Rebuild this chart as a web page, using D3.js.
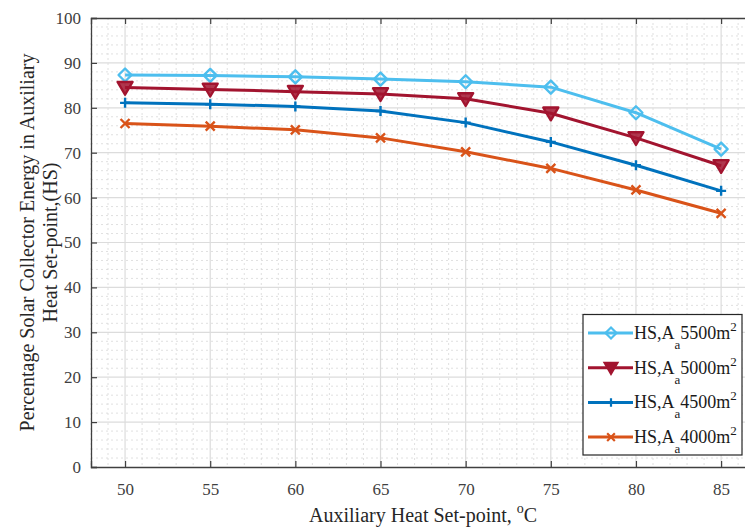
<!DOCTYPE html>
<html>
<head>
<meta charset="utf-8">
<script src="https://cdn.jsdelivr.net/npm/d3@7"></script>
<style>
  body { margin: 0; background: #fff; }
  text { font-family: "Liberation Serif", "DejaVu Serif", serif; }
</style>
</head>
<body>
<div id="container"></div>
<script>
/* CONSTANTS AND GLOBALS */
const width = 745,
  height = 527,
  margin = {top: 18, left: 91, bottom: 60};

// data
const setPoints = [50, 55, 60, 65, 70, 75, 80, 85];
const hs5500 = [87.3, 87.2, 86.9, 86.4, 85.8, 84.6, 78.9, 70.8];
const hs5000 = [84.5, 84.1, 83.6, 83.1, 82.0, 78.8, 73.3, 67.1];
const hs4500 = [81.1, 80.8, 80.3, 79.3, 76.7, 72.4, 67.2, 61.5];
const hs4000 = [76.5, 75.9, 75.1, 73.3, 70.2, 66.5, 61.7, 56.5];
const seriesNames = ["5500", "5000", "4500", "4000"];
const yTicks = [0, 10, 20, 30, 40, 50, 60, 70, 80, 90, 100];
const xTicks = [50, 55, 60, 65, 70, 75, 80, 85];

const series = [
  {name: seriesNames[0], values: hs5500, color: "#4DBEEE", marker: "diamond"},
  {name: seriesNames[1], values: hs5000, color: "#A2142F", marker: "triangle"},
  {name: seriesNames[2], values: hs4500, color: "#0072BD", marker: "plus"},
  {name: seriesNames[3], values: hs4000, color: "#D95319", marker: "cross"}
];

/* SCALES */
const xScale = d3.scaleLinear().domain([48, 87]).range([margin.left, margin.left + 39 * 17.03]);
const yScale = d3.scaleLinear().domain([0, 100]).range([467, margin.top]);

const svg = d3.select("#container")
  .append("svg")
  .attr("width", width)
  .attr("height", height)
  .style("background-color", "white");

const x0 = xScale(48), x1 = xScale(87), y0 = yScale(0), y1 = yScale(100);

// minor grid
svg.append("g").selectAll("line")
  .data(d3.range(48, 88, 1).filter(v => v % 5 !== 0))
  .join("line")
  .attr("x1", d => xScale(d)).attr("x2", d => xScale(d))
  .attr("y1", y1).attr("y2", y0)
  .attr("stroke", "#d8d8d8").attr("stroke-dasharray", "2,3").attr("stroke-width", 0.8);
svg.append("g").selectAll("line")
  .data(d3.range(2, 100, 2).filter(v => v % 10 !== 0))
  .join("line")
  .attr("x1", x0).attr("x2", x1)
  .attr("y1", d => yScale(d)).attr("y2", d => yScale(d))
  .attr("stroke", "#d8d8d8").attr("stroke-dasharray", "2,3").attr("stroke-width", 0.8);

// major grid
svg.append("g").selectAll("line")
  .data(xTicks)
  .join("line")
  .attr("x1", d => xScale(d)).attr("x2", d => xScale(d))
  .attr("y1", y1).attr("y2", y0)
  .attr("stroke", "#dcdcdc").attr("stroke-width", 1.2);
svg.append("g").selectAll("line")
  .data(yTicks.slice(1, -1))
  .join("line")
  .attr("x1", x0).attr("x2", x1)
  .attr("y1", d => yScale(d)).attr("y2", d => yScale(d))
  .attr("stroke", "#dcdcdc").attr("stroke-width", 1.2);

// axes
const xAxis = d3.axisBottom(xScale).tickValues(xTicks).tickSize(-6).tickPadding(16);
const yAxis = d3.axisLeft(yScale).tickValues(yTicks).tickSize(-6).tickPadding(10);
const xTop = d3.axisTop(xScale).tickValues(xTicks).tickSize(-6).tickFormat("");

function styleAxis(g) {
  g.attr("font-family", "Liberation Serif").attr("font-size", 17);
  g.select(".domain").attr("stroke", "#404040").attr("stroke-width", 1.3);
  g.selectAll(".tick line").attr("stroke", "#404040").attr("stroke-width", 1.2);
  g.selectAll(".tick text").attr("fill", "#404040");
}
svg.append("g").attr("transform", `translate(0,${y0})`).call(xAxis).call(styleAxis);
svg.append("g").attr("transform", `translate(${x0},0)`).call(yAxis).call(styleAxis);
svg.append("g").attr("transform", `translate(0,${y1})`).call(xTop).call(styleAxis);

// markers
function markerPath(type, s) {
  if (type === "diamond") return `M0,${-s}L${s},0L0,${s}L${-s},0Z`;
  if (type === "triangle") return `M${-s},${-s*0.75}L${s},${-s*0.75}L0,${s*0.95}Z`;
  if (type === "plus") return `M${-s},0L${s},0M0,${-s}L0,${s}`;
  return `M${-s},${-s}L${s},${s}M${-s},${s}L${s},${-s}`;
}
const markerSize = {diamond: 6.5, triangle: 7.5, plus: 5, cross: 4.5};

const line = d3.line()
  .x((d, i) => xScale(setPoints[i]))
  .y(d => yScale(d));

const groups = svg.append("g").selectAll("g")
  .data(series)
  .join("g");

groups.append("path")
  .attr("d", d => line(d.values))
  .attr("fill", "none")
  .attr("stroke", d => d.color)
  .attr("stroke-width", 3)
  .attr("stroke-linejoin", "round");

groups.each(function(s) {
  d3.select(this).selectAll("path.mk")
    .data(s.values)
    .join("path")
    .attr("class", "mk")
    .attr("transform", (d, i) => `translate(${xScale(setPoints[i])},${yScale(d)})`)
    .attr("d", markerPath(s.marker, markerSize[s.marker]))
    .attr("fill", s.marker === "triangle" ? s.color : "none")
    .attr("fill-opacity", 0.85)
    .attr("stroke", s.color)
    .attr("stroke-width", 2.4)
    .attr("stroke-linejoin", "round");
});

// legend
const legend = svg.append("g");
legend.append("rect")
  .attr("x", 583).attr("y", 314.5)
  .attr("width", 159).attr("height", 140.5)
  .attr("fill", "white").attr("stroke", "#262626").attr("stroke-width", 1.2);

const rows = legend.selectAll("g.row")
  .data(series)
  .join("g")
  .attr("class", "row")
  .attr("transform", (d, i) => `translate(0,${333 + i * 34.7})`);

rows.append("line")
  .attr("x1", 588).attr("x2", 633)
  .attr("stroke", d => d.color).attr("stroke-width", 3);
rows.append("path")
  .attr("transform", "translate(611,0)")
  .attr("d", d => markerPath(d.marker, markerSize[d.marker] * 0.85))
  .attr("fill", d => d.marker === "triangle" ? d.color : "none")
  .attr("stroke", d => d.color).attr("stroke-width", 2.2);

const lt = rows.append("text")
  .attr("x", 634).attr("y", 6)
  .attr("fill", "#1a1a1a")
  .style("font-size", "18px");
lt.append("tspan").text("HS,A");
lt.append("tspan").attr("dy", 10).style("font-size", "13px").text("a");
lt.append("tspan").attr("dy", -10).text(d => d.name + "m");
lt.append("tspan").attr("dy", -8).style("font-size", "13px").text("2");

// axis titles
const xt = svg.append("text")
  .attr("x", (x0 + x1) / 2).attr("y", 522)
  .attr("text-anchor", "middle")
  .attr("fill", "#262626")
  .style("font-size", "20px");
xt.append("tspan").text("Auxiliary Heat Set-point, ");
xt.append("tspan").attr("dy", -9).style("font-size", "14px").text("o");
xt.append("tspan").attr("dy", 9).text("C");

const yt = svg.append("text")
  .attr("transform", `translate(0,${(y0 + y1) / 2}) rotate(-90)`)
  .attr("text-anchor", "middle")
  .attr("fill", "#262626")
  .style("font-size", "20px");
yt.append("tspan").attr("x", 0).attr("y", 34).text("Percentage Solar Collector Energy in Auxiliary");
yt.append("tspan").attr("x", 0).attr("y", 57).text("Heat Set-point,(HS)");
</script>
</body>
</html>
